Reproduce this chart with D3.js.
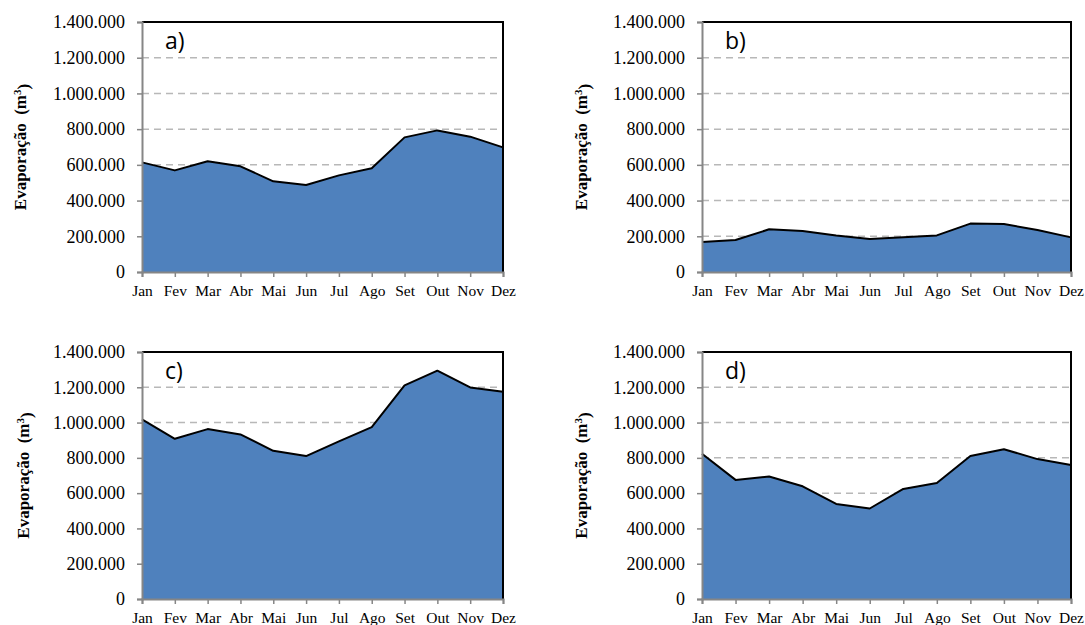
<!DOCTYPE html>
<html>
<head>
<meta charset="utf-8">
<script src="https://cdn.jsdelivr.net/npm/d3@7"></script>
<style>
  body { margin: 0; background: #fff; }
  svg { display: block; }
</style>
</head>
<body>
<div id="chart"></div>
<script>
// meses e valores (m3)
var months = ["Jan","Fev","Mar","Abr","Mai","Jun","Jul","Ago","Set","Out","Nov","Dez"];
var yTicks = [0, 200000, 400000, 600000, 800000, 1000000, 1200000, 1400000];

var evapA = [614000, 569000, 620000, 592000, 508000, 487000, 541000, 581000, 754000, 793000, 758000, 698000];
var evapB = [168000, 179000, 239000, 230000, 205000, 185000, 194000, 205000, 271000, 269000, 235000, 194000];
var evapC = [1018000, 908000, 963000, 933000, 840000, 810000, 893000, 974000, 1211000, 1294000, 1199000, 1175000];
var evapD = [823000, 675000, 694000, 639000, 539000, 513000, 624000, 658000, 810000, 849000, 793000, 759000];

var panelLabels = ["a)", "b)", "c)", "d)"];

var width = 1085, height = 625;
var svg = d3.select("#chart").append("svg")
  .attr("width", width)
  .attr("height", height);

var ptBR = d3.formatLocale({decimal: ",", thousands: ".", grouping: [3], currency: ["R$", ""]});
var fmt = ptBR.format(",.0f");
var serif = "'Liberation Serif', 'Times New Roman', serif";

// caixas de cada painel: left, right, top, bottom, x do titulo
var boxes = [
  {l: 142, r: 503, t: 22, b: 272, tx: 20},
  {l: 702, r: 1071, t: 22, b: 272, tx: 581},
  {l: 142, r: 503, t: 352, b: 599, tx: 23},
  {l: 702, r: 1071, t: 352, b: 599, tx: 581}
];
var series = [evapA, evapB, evapC, evapD];

boxes.forEach(function(bx, i) {
  var values = series[i];
  var x = d3.scalePoint().domain(months).range([bx.l, bx.r]);
  var y = d3.scaleLinear().domain([0, 1400000]).range([bx.b, bx.t]);

  var g = svg.append("g");

  // grade tracejada
  g.selectAll(".grid")
    .data(yTicks.filter(function(d){ return d > 0 && d < 1400000; }))
    .enter().append("line")
    .attr("x1", bx.l).attr("x2", bx.r)
    .attr("y1", function(d){ return y(d); })
    .attr("y2", function(d){ return y(d); })
    .attr("stroke", "#B8B8B8")
    .attr("stroke-width", 1.5)
    .attr("stroke-dasharray", "7,5");

  var area = d3.area()
    .x(function(d, j){ return x(months[j]); })
    .y0(y(0))
    .y1(function(d){ return y(d); });

  var line = d3.line()
    .x(function(d, j){ return x(months[j]); })
    .y(function(d){ return y(d); });

  g.append("path")
    .attr("d", area(values))
    .attr("fill", "#4F81BD");

  g.append("path")
    .attr("d", line(values))
    .attr("fill", "none")
    .attr("stroke", "#000")
    .attr("stroke-width", 2)
    .attr("stroke-linejoin", "round");

  // borda superior e direita
  g.append("path")
    .attr("d", "M" + bx.l + "," + bx.t + "H" + bx.r + "V" + bx.b)
    .attr("fill", "none")
    .attr("stroke", "#000")
    .attr("stroke-width", 2);

  // eixo y
  var yAxis = g.append("g")
    .attr("transform", "translate(" + bx.l + ",0)")
    .call(d3.axisLeft(y).tickValues(yTicks).tickFormat(fmt).tickSize(5).tickPadding(12));
  // eixo x
  var xAxis = g.append("g")
    .attr("transform", "translate(0," + bx.b + ")")
    .call(d3.axisBottom(x).tickSize(5).tickPadding(8));

  [yAxis, xAxis].forEach(function(ax) {
    ax.attr("font-family", serif);
    ax.select(".domain").attr("stroke", "#868686").attr("stroke-width", 2);
    ax.selectAll(".tick line").attr("stroke", "#868686").attr("stroke-width", 1.5);
    ax.selectAll("text").attr("fill", "#000");
  });
  yAxis.attr("font-size", 18);
  xAxis.attr("font-size", 15.5);

  // titulo do eixo y
  var title = svg.append("text")
    .attr("transform", "translate(" + bx.tx + "," + ((bx.t + bx.b) / 2) + ") rotate(-90)")
    .attr("text-anchor", "middle")
    .attr("dy", "0.35em")
    .style("font-family", serif)
    .style("font-weight", "bold")
    .style("font-size", "17px");
  title.append("tspan").text("Evaporação\u00a0\u00a0(m");
  title.append("tspan")
    .attr("dy", "-0.45em")
    .style("font-size", "11px")
    .text("3");
  title.append("tspan")
    .attr("dy", "0.45em")
    .text(")");

  // rotulo do painel
  svg.append("text")
    .attr("x", bx.l + 23)
    .attr("y", bx.t + 27)
    .style("font-family", "'Open Sans', sans-serif")
    .style("font-size", "23px")
    .text(panelLabels[i]);
});
</script>
</body>
</html>
